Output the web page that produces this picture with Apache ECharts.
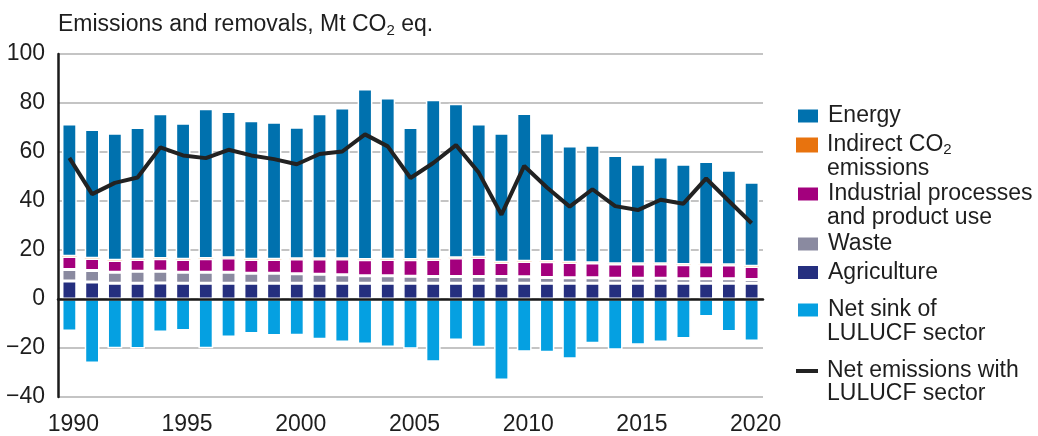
<!DOCTYPE html>
<html>
<head>
<meta charset="utf-8">
<title>Emissions and removals</title>
<script src="https://cdn.jsdelivr.net/npm/echarts@6/dist/echarts.min.js"></script>
<style>
html, body { margin: 0; padding: 0; background: #fff; }
#chart { width: 1038px; height: 436px; }
</style>
</head>
<body>
<div id="chart"></div>
<script>
// data (Mt CO2 eq.)
var years = ['1990', '1991', '1992', '1993', '1994', '1995', '1996', '1997', '1998', '1999',
	'2000', '2001', '2002', '2003', '2004', '2005', '2006', '2007', '2008', '2009',
	'2010', '2011', '2012', '2013', '2014', '2015', '2016', '2017', '2018', '2019', '2020'];
var agriculture = [7.3, 6.9, 6.4, 6.4, 6.5, 6.4, 6.4, 6.4, 6.4, 6.4,
	6.4, 6.4, 6.4, 6.4, 6.4, 6.4, 6.4, 6.4, 6.4, 6.4,
	6.4, 6.4, 6.4, 6.4, 6.4, 6.4, 6.4, 6.4, 6.4, 6.4, 6.4];
var waste = [4.7, 4.7, 4.5, 4.9, 4.8, 4.5, 4.5, 4.5, 4.1, 4.1,
	3.9, 3.7, 3.5, 3.1, 3.1, 2.9, 2.8, 2.8, 2.8, 2.8,
	2.7, 2.4, 2.3, 2.3, 2.1, 2.1, 2.1, 1.9, 1.9, 1.9, 1.6];
var industrial = [5.3, 4.9, 4.8, 4.8, 5.1, 5.2, 5.5, 5.8, 5.6, 5.6,
	6.0, 6.2, 6.4, 6.5, 6.6, 6.7, 6.9, 7.5, 7.7, 5.7,
	6.2, 6.4, 6.2, 6.0, 5.8, 5.8, 5.8, 5.7, 5.6, 5.6, 5.3];
var indirect = [0.1, 0.1, 0.1, 0.1, 0.1, 0.1, 0.1, 0.1, 0.1, 0.1,
	0.1, 0.1, 0.1, 0.1, 0.1, 0.1, 0.1, 0.1, 0.1, 0.1,
	0.1, 0.1, 0.1, 0.1, 0.1, 0.1, 0.1, 0.1, 0.1, 0.1, 0.1];
var energy = [54.0, 52.6, 51.9, 53.8, 59.1, 55.5, 61.2, 59.7, 56.6, 55.9,
	53.7, 59.2, 61.6, 69.6, 65.8, 53.9, 65.1, 62.9, 54.4, 52.7,
	60.3, 52.5, 47.4, 48.0, 44.2, 40.6, 43.6, 40.9, 42.1, 38.6, 34.3];
var lulucf = [-13.1, -26.1, -20.1, -20.2, -13.5, -12.9, -20.1, -15.5, -14.1, -14.9,
	-14.8, -16.4, -17.6, -18.4, -19.6, -20.3, -25.6, -16.7, -19.7, -33.1,
	-21.5, -21.7, -24.4, -18.1, -20.7, -18.7, -17.5, -16.1, -7.1, -13.3, -17.1];
var netEmissions = [57.6, 42.8, 47.4, 49.6, 61.9, 58.6, 57.5, 60.9, 58.6, 57.1,
	55.0, 59.2, 60.2, 67.2, 62.3, 49.4, 55.5, 62.8, 51.6, 34.4,
	54.3, 45.5, 37.7, 44.8, 37.9, 36.3, 40.5, 38.9, 49.2, 40.0, 30.9];

var font = "'Liberation Sans', Arial, Helvetica, sans-serif";
var textColor = '#1e1e1e';

var bar = function(name, data, color, border) {
	return {
		name: name,
		type: 'bar',
		stack: 'total',
		barWidth: '65%',
		data: data,
		itemStyle: {
			color: color,
			borderColor: '#fff',
			borderWidth: border
		}
	};
};

// one legend per entry so each can sit where the reference puts it
var legendItem = function(name, label, centerY, icon, h) {
	return {
		data: [{ name: name, icon: icon || 'rect' }],
		left: 796,
		top: centerY - 12,
		padding: 0,
		itemWidth: 22,
		itemHeight: h || 15,
		selectedMode: false,
		formatter: function() { return label; },
		textStyle: {
			fontFamily: font,
			fontSize: 23,
			color: textColor,
			lineHeight: 24,
			padding: [0, 0, 0, 4],
			rich: {
				sub: { fontFamily: font, fontSize: 15, verticalAlign: 'bottom', lineHeight: 24, padding: [7, 0, 0, 0], color: textColor }
			}
		}
	};
};

var secondLine = function(text, centerY) {
	return {
		type: 'text',
		left: 827,
		top: centerY - 12,
		style: { text: text, fontFamily: font, fontSize: 23, fill: textColor, lineHeight: 24 }
	};
};

var chart = echarts.init(document.getElementById('chart'));
chart.setOption({
	animation: false,
	title: {
		text: 'Emissions and removals, Mt CO{sub|2} eq.',
		left: 58,
		top: 12,
		padding: 0,
		textStyle: {
			fontFamily: font,
			fontSize: 23,
			fontWeight: 'normal',
			color: textColor,
			lineHeight: 26,
			rich: {
				sub: { fontFamily: font, fontSize: 15, verticalAlign: 'bottom', lineHeight: 26, padding: [7, 0, 0, 0], color: textColor }
			}
		}
	},
	grid: {
		left: 58,
		right: 275,
		top: 54,
		bottom: 32,
		containLabel: false
	},
	legend: [
		legendItem('Energy', 'Energy', 116),
		legendItem('Indirect CO2 emissions', 'Indirect CO{sub|2}', 145),
		legendItem('Industrial processes and product use', 'Industrial processes', 194),
		legendItem('Waste', 'Waste', 244),
		legendItem('Agriculture', 'Agriculture', 272.5),
		legendItem('Net sink of LULUCF sector', 'Net sink of', 310),
		legendItem('Net emissions with LULUCF sector', 'Net emissions with', 371, 'rect', 4)
	],
	graphic: [
		secondLine('emissions', 169),
		secondLine('and product use', 217.5),
		secondLine('LULUCF sector', 333.5),
		secondLine('LULUCF sector', 393.5)
	],
	xAxis: {
		type: 'category',
		data: years,
		z: 5,
		axisTick: { show: false },
		axisLine: { lineStyle: { color: '#1a1a1a', width: 2.5 } },
		axisLabel: {
			interval: 4,
			margin: 16,
			padding: [0, 0, 0, 8],
			fontFamily: font,
			fontSize: 23,
			color: textColor
		}
	},
	yAxis: {
		type: 'value',
		min: -40,
		max: 100,
		interval: 20,
		axisLine: { show: true, lineStyle: { color: '#1a1a1a', width: 2.5 } },
		axisTick: { show: false },
		splitLine: { lineStyle: { color: '#b0b0b0', width: 1.5 } },
		axisLabel: {
			margin: 13,
			fontFamily: font,
			fontSize: 23,
			color: textColor,
			formatter: function(v) { return String(v).replace('-', '\u2212'); }
		}
	},
	series: [
		bar('Agriculture', agriculture, '#252f7f', 1.5),
		bar('Waste', waste, '#8a8aa0', 1.5),
		bar('Industrial processes and product use', industrial, '#a3007d', 1.5),
		bar('Indirect CO2 emissions', indirect, '#e8730e', 0),
		bar('Energy', energy, '#0071ae', 1.5),
		bar('Net sink of LULUCF sector', lulucf, '#05a0e1', 1.5),
		{
			name: 'Net emissions with LULUCF sector',
			type: 'line',
			data: netEmissions,
			z: 10,
			symbol: 'none',
			itemStyle: { color: '#222' },
			lineStyle: { color: '#222', width: 4 }
		}
	]
});
</script>
</body>
</html>
